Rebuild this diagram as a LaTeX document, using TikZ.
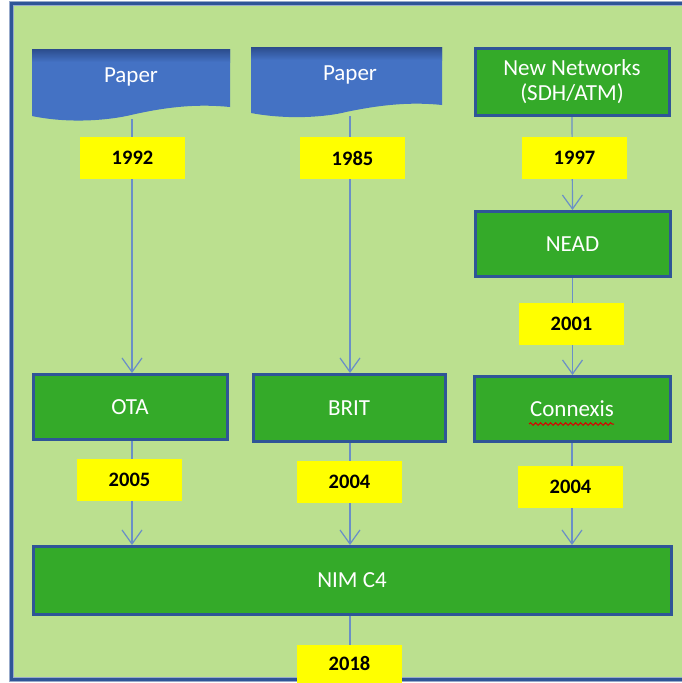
\documentclass[tikz,border=0pt]{standalone}
\usepackage{fontspec}
\setmainfont{Carlito}
\usetikzlibrary{arrows.meta,decorations.pathmorphing}
\definecolor{bggreen}{HTML}{BBE08F}
\definecolor{boxgreen}{HTML}{34AA29}
\definecolor{frameblue}{HTML}{2F5597}
\definecolor{paperblue}{HTML}{4472C4}
\definecolor{paperdark}{HTML}{2B4C8C}
\definecolor{linecol}{HTML}{6A8FC7}
\definecolor{yel}{HTML}{FFFF00}
\pgfdeclarelayer{bg}
\pgfdeclarelayer{lines}
\pgfsetlayers{bg,lines,main}
\tikzset{
  gbox/.style={draw=frameblue, line width=3pt, fill=boxgreen, text=white,
    font=\fontsize{23}{26}\selectfont, align=center, inner sep=0pt},
  yr/.style={fill=yel, text=black, font=\fontsize{20.5}{23}\selectfont\bfseries,
    minimum width=105pt, minimum height=42pt, inner sep=0pt},
  papertxt/.style={text=white, font=\fontsize{23}{26}\selectfont, inner sep=0pt},
  arr/.style={draw=linecol, line width=1.2pt, -{Straight Barb[length=14pt,width=20pt,line width=1.2pt]}},
  conn/.style={draw=linecol, line width=1.2pt},
}
\begin{document}
\begin{tikzpicture}[x=1pt,y=-1pt]
\clip (0,0) rectangle (682,683);
\begin{pgfonlayer}{bg}
  \fill[white] (0,0) rectangle (682,683);
  \draw[frameblue!50, line width=5pt, fill=bggreen] (11.5,3.5) rectangle (720,679);
  \draw[frameblue, line width=3pt] (11.5,3.5) rectangle (720,679);
\end{pgfonlayer}
% paper shapes
\fill[paperblue] (32,49) -- (230,49) -- (230,107)
  .. controls (200,104) and (170,106) .. (131,115)
  .. controls (110,120) and (70,124) .. (32,116) -- cycle;
\shade[top color=paperdark, bottom color=paperblue] (32,49) rectangle (230,62);
\fill[paperblue] (251,47) -- (442,47) -- (442,105)
  .. controls (413,102) and (384,104) .. (346,112)
  .. controls (326,117) and (288,120) .. (251,113) -- cycle;
\shade[top color=paperdark, bottom color=paperblue] (251,47) rectangle (442,60);
\node[papertxt] (p1t) at (131,77) {Paper};
\node[papertxt] (p2t) at (350,75) {Paper};
\coordinate (p1) at (132,119);
\coordinate (p2) at (350,116);
% green boxes
\node[gbox, minimum width=194pt, minimum height=67pt] (nn) at (572,82) {New Networks\\[-1pt](SDH/ATM)};
\node[gbox, minimum width=195pt, minimum height=65pt] (nead) at (572.5,244) {NEAD};
\node[gbox, minimum width=194pt, minimum height=65pt] (ota) at (130,407) {OTA};
\node[gbox, minimum width=192pt, minimum height=67pt] (brit) at (349,408) {BRIT};
\node[gbox, minimum width=196pt, minimum height=65pt] (cnx) at (572,409) {Connexis};
\node[gbox, minimum width=638pt, minimum height=68pt] (nim) at (352,580.5) {NIM C4};
\draw[red!85!black, line width=1pt, decorate, decoration={snake, amplitude=1.3pt, segment length=5pt}]
  ([xshift=-43pt,yshift=-15pt]cnx.center) -- ([xshift=42pt,yshift=-15pt]cnx.center);
% year labels
\node[yr] (y1992) at (132.5,158) {1992};
\node[yr] (y1985) at (352.5,158) {1985};
\node[yr] (y1997) at (574.5,158) {1997};
\node[yr] (y2001) at (571.5,324) {2001};
\node[yr] (y2005) at (129.5,480) {2005};
\node[yr] (y2004a) at (349.5,482) {2004};
\node[yr] (y2004b) at (570.5,486.5) {2004};
\node[yr, minimum height=46pt, text depth=0pt] (y2018) at (349.5,668) {\raisebox{10pt}{2018}};
% connectors
\begin{pgfonlayer}{lines}
  \draw[arr] (p1) -- (p1 |- ota.north);
  \draw[arr] (p2) -- (p2 |- brit.north);
  \draw[arr] (nn.south) -- (nead.north);
  \draw[arr] (nead.south) -- (nead.south |- cnx.north);
  \draw[arr] (p1 |- ota.south) -- (p1 |- nim.north);
  \draw[arr] (p2 |- brit.south) -- (p2 |- nim.north);
  \draw[arr] (nn.south |- cnx.south) -- (nn.south |- nim.north);
  \draw[conn] (p2 |- nim.south) -- (p2 |- y2018.north);
\end{pgfonlayer}
\end{tikzpicture}
\end{document}
